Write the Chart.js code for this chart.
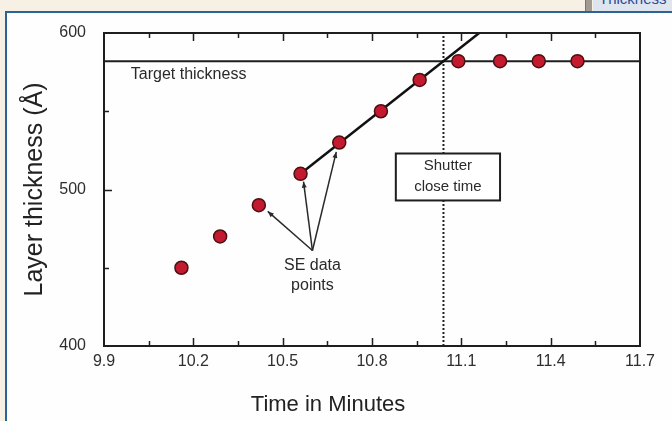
<!DOCTYPE html>
<html>
<head>
<meta charset="utf-8">
<title>Layer thickness vs time</title>
<script src="https://cdn.jsdelivr.net/npm/chart.js@4.4.1/dist/chart.umd.min.js"></script>
<style>
  html, body { margin: 0; padding: 0; }
  body {
    width: 672px; height: 421px; overflow: hidden; position: relative;
    background: #f7f0e5;
    font-family: "Liberation Sans", Arial, sans-serif;
  }
  .panel {
    position: absolute; left: 5px; top: 11px; right: 0; bottom: 0;
    background: #fefefe;
    border-left: 2px solid #2b6494; border-top: 2px solid #2b6494;
  }
  .tab-edge { position: absolute; left: 585px; top: 0; width: 6px; height: 11px; background: #a39a93; border-left: 1px solid #7c726b; }
  .tab { position: absolute; left: 593px; top: 0; width: 79px; height: 11px; background: #dfe5ee; overflow: hidden; }
  .tab span { position: absolute; left: 6px; top: -10px; font-size: 15px; color: #2c4b9a; }
  .chart-box { position: absolute; left: 0; top: 0; width: 672px; height: 421px; }
</style>
</head>
<body>
<div class="panel"></div>
<div class="tab-edge"></div>
<div class="tab"><span>Thickness</span></div>
<div class="chart-box"><canvas id="thicknessChart"></canvas></div>

<script>
// ===== DATA ===== //
const timeMin    = [10.16, 10.29, 10.42, 10.56, 10.69, 10.83, 10.96, 11.09, 11.23, 11.36, 11.49];
const thicknessA = [450, 470, 490, 510, 530, 550, 570, 582, 582, 582, 582];

const fitTime      = [10.56, 11.16];
const fitThickness = [510, 600];

const targetThickness = 582;
const shutterTime = 11.04;

const xTicks = [9.9, 10.2, 10.5, 10.8, 11.1, 11.4, 11.7];
const yTicks = [400, 500, 600];

// annotation anchors, in (minutes, Å)
const seLabelAt  = [10.60, 461];
const seArrowTo  = [[10.45, 486], [10.57, 505], [10.68, 524]];
const shutterBox = { t0: 10.88, t1: 11.23, a0: 493, a1: 523 };
const targetLabelAt = [9.99, targetThickness];

const INK = '#1e1e1e';
const FONT = '"Liberation Sans", Arial, sans-serif';

// ===== HELPERS ===== //
function midpoints(arr) {
    return arr.slice(0, -1).map((v, i) => (v + arr[i + 1]) / 2);
}

function arrow(ctx, x0, y0, x1, y1) {
    ctx.beginPath();
    ctx.moveTo(x0, y0);
    ctx.lineTo(x1, y1);
    ctx.stroke();
    const ang = Math.atan2(y1 - y0, x1 - x0);
    const len = 6, half = 2.5;
    ctx.beginPath();
    ctx.moveTo(x1, y1);
    ctx.lineTo(x1 - len * Math.cos(ang) + half * Math.sin(ang), y1 - len * Math.sin(ang) - half * Math.cos(ang));
    ctx.lineTo(x1 - len * Math.cos(ang) - half * Math.sin(ang), y1 - len * Math.sin(ang) + half * Math.cos(ang));
    ctx.closePath();
    ctx.fill();
}

// ===== PLUGIN: frame, inward ticks, annotations ===== //
const annotationPlugin = {
    id: 'annotations',
    afterDatasetsDraw(chart) {
        const { ctx, scales: { x, y } } = chart;
        ctx.save();

        // Shutter box sits over the dotted line
        const bx0 = x.getPixelForValue(shutterBox.t0), bx1 = x.getPixelForValue(shutterBox.t1);
        const by0 = y.getPixelForValue(shutterBox.a1), by1 = y.getPixelForValue(shutterBox.a0);
        ctx.fillStyle = '#ffffff';
        ctx.fillRect(bx0, by0, bx1 - bx0, by1 - by0);
        ctx.strokeStyle = INK;
        ctx.lineWidth = 2;
        ctx.strokeRect(bx0, by0, bx1 - bx0, by1 - by0);
        ctx.fillStyle = '#2a2a2a';
        ctx.font = `15px ${FONT}`;
        ctx.textAlign = 'center';
        ctx.textBaseline = 'middle';
        const bcx = (bx0 + bx1) / 2, bcy = (by0 + by1) / 2;
        ctx.fillText('Shutter', bcx, bcy - 11);
        ctx.fillText('close time', bcx, bcy + 10);

        // SE data points callout
        const ax = x.getPixelForValue(seLabelAt[0]), ay = y.getPixelForValue(seLabelAt[1]);
        ctx.strokeStyle = '#2a2a2a';
        ctx.fillStyle = '#2a2a2a';
        ctx.lineWidth = 1.5;
        seArrowTo.forEach(([t, a]) => arrow(ctx, ax, ay, x.getPixelForValue(t), y.getPixelForValue(a)));
        ctx.font = `16px ${FONT}`;
        ctx.fillText('SE data', ax, ay + 15);
        ctx.fillText('points', ax, ay + 35);

        // Target thickness label
        ctx.textAlign = 'left';
        ctx.font = `16px ${FONT}`;
        ctx.fillText('Target thickness', x.getPixelForValue(targetLabelAt[0]), y.getPixelForValue(targetLabelAt[1]) + 13);

        ctx.restore();
    },
    afterDraw(chart) {
        const { ctx, chartArea: a, scales: { x, y } } = chart;
        ctx.save();
        ctx.strokeStyle = INK;
        ctx.lineWidth = 2;
        ctx.strokeRect(a.left, a.top, a.right - a.left, a.bottom - a.top);

        // inward tick marks on bottom, top and left
        ctx.lineWidth = 1.5;
        ctx.beginPath();
        const xMajor = xTicks.slice(1, -1), xMinor = midpoints(xTicks);
        [[xMajor, 8], [xMinor, 5]].forEach(([vals, len]) => vals.forEach(v => {
            const px = Math.round(x.getPixelForValue(v)) + 0.5;
            ctx.moveTo(px, a.bottom); ctx.lineTo(px, a.bottom - len);
            ctx.moveTo(px, a.top);    ctx.lineTo(px, a.top + len);
        }));
        const yMajor = yTicks.slice(1, -1), yMinor = midpoints(yTicks);
        [[yMajor, 8], [yMinor, 5]].forEach(([vals, len]) => vals.forEach(v => {
            const py = Math.round(y.getPixelForValue(v)) + 0.5;
            ctx.moveTo(a.left, py); ctx.lineTo(a.left + len, py);
        }));
        ctx.stroke();

        // x axis title
        ctx.fillStyle = '#222';
        ctx.font = `22px ${FONT}`;
        ctx.textAlign = 'center';
        ctx.textBaseline = 'middle';
        ctx.fillText('Time in Minutes', 328, 405);
        ctx.restore();
    }
};

// ===== CHART ===== //
const points = timeMin.map((t, i) => ({ x: t, y: thicknessA[i] }));
const fitLine = fitTime.map((t, i) => ({ x: t, y: fitThickness[i] }));
const targetLine = [xTicks[0], xTicks[xTicks.length - 1]].map(t => ({ x: t, y: targetThickness }));
const shutterLine = [yTicks[0], yTicks[yTicks.length - 1]].map(v => ({ x: shutterTime, y: v }));

const ctx = document.getElementById('thicknessChart').getContext('2d');
new Chart(ctx, {
    type: 'scatter',
    data: {
        datasets: [
            {
                label: 'SE data points',
                data: points,
                pointRadius: 6.5,
                pointHoverRadius: 6.5,
                backgroundColor: '#c41a30',
                borderColor: '#4a1012',
                borderWidth: 1.5
            },
            {
                label: 'Fit',
                data: fitLine,
                showLine: true,
                pointRadius: 0,
                borderColor: '#111',
                borderWidth: 2.5
            },
            {
                label: 'Target thickness',
                data: targetLine,
                showLine: true,
                pointRadius: 0,
                borderColor: INK,
                borderWidth: 2
            },
            {
                label: 'Shutter close time',
                data: shutterLine,
                showLine: true,
                pointRadius: 0,
                borderColor: '#222',
                borderWidth: 2,
                borderDash: [2, 2]
            }
        ]
    },
    options: {
        responsive: true,
        maintainAspectRatio: false,
        devicePixelRatio: 1,
        animation: false,
        layout: { padding: { top: 33, right: 32, left: 0, bottom: 0 } },
        plugins: {
            legend: { display: false },
            tooltip: { enabled: false }
        },
        scales: {
            x: {
                type: 'linear',
                min: xTicks[0],
                max: xTicks[xTicks.length - 1],
                afterBuildTicks: s => { s.ticks = xTicks.map(v => ({ value: v })); },
                afterFit: s => { s.height = 75; },
                grid: { display: false, drawTicks: false },
                border: { display: false },
                ticks: {
                    padding: 6,
                    color: '#2e2e2e',
                    font: { family: FONT, size: 16 },
                    maxRotation: 0,
                    callback: v => Number(v).toFixed(1)
                }
            },
            y: {
                type: 'linear',
                min: yTicks[0],
                max: yTicks[yTicks.length - 1],
                afterBuildTicks: s => { s.ticks = yTicks.map(v => ({ value: v })); },
                afterFit: s => { s.width = 104; },
                grid: { display: false, drawTicks: false },
                border: { display: false },
                ticks: {
                    padding: 18,
                    color: '#2e2e2e',
                    font: { family: FONT, size: 16 }
                },
                title: {
                    display: true,
                    text: 'Layer thickness (Å)',
                    color: '#222',
                    font: { family: FONT, size: 25 },
                    padding: { top: 20, bottom: 0 }
                }
            }
        }
    },
    plugins: [annotationPlugin]
});
</script>
</body>
</html>
